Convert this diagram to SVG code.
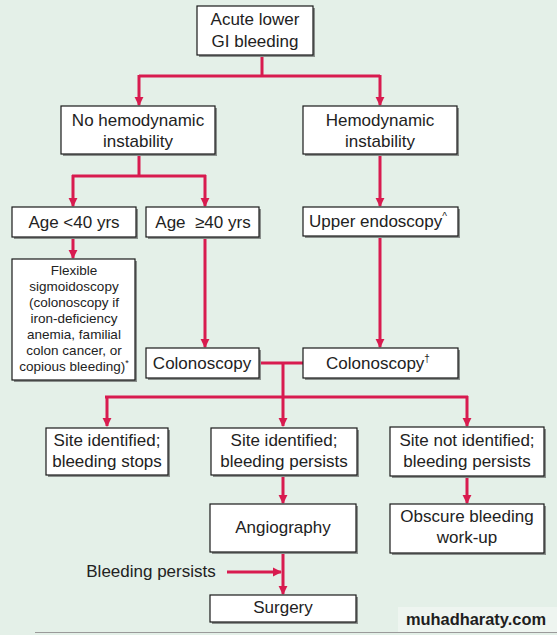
<svg xmlns="http://www.w3.org/2000/svg" width="557" height="635" viewBox="0 0 557 635">
<defs>
<style>
.bx{fill:#fff;stroke:#1a1a1a;stroke-width:1.2}
.sh{fill:#8a8f8c}
.t{font-family:"Liberation Sans",Arial,sans-serif;font-size:17px;fill:#222;text-anchor:middle}
.s{font-family:"Liberation Sans",Arial,sans-serif;font-size:13.5px;fill:#222;text-anchor:middle}
.c{fill:none;stroke:#d81b4f;stroke-width:3}
</style>
<marker id="ah" viewBox="0 0 10 10" refX="9" refY="5" markerWidth="3" markerHeight="3.2" orient="auto" markerUnits="strokeWidth">
<path d="M0,0 L10,5 L0,10 z" fill="#d81b4f"/>
</marker>
</defs>
<rect width="557" height="635" fill="#e4f0e8"/>
<g id="connectors">
<path class="c" d="M262,55 V76 M139,76 H380"/>
<path class="c" d="M139,75 V105" marker-end="url(#ah)"/>
<path class="c" d="M380,75 V105" marker-end="url(#ah)"/>
<path class="c" d="M139,154 V176 M72,176 H206"/>
<path class="c" d="M73,175 V206" marker-end="url(#ah)"/>
<path class="c" d="M205,175 V206" marker-end="url(#ah)"/>
<path class="c" d="M73,237 V258" marker-end="url(#ah)"/>
<path class="c" d="M205,237 V347" marker-end="url(#ah)"/>
<path class="c" d="M380,154 V206" marker-end="url(#ah)"/>
<path class="c" d="M380,236 V347" marker-end="url(#ah)"/>
<path class="c" d="M259,363 H303"/>
<path class="c" d="M283,363 V426" marker-end="url(#ah)"/>
<path class="c" d="M105,397 H468"/>
<path class="c" d="M107,396 V426" marker-end="url(#ah)"/>
<path class="c" d="M467,396 V426" marker-end="url(#ah)"/>
<path class="c" d="M283,475 V503" marker-end="url(#ah)"/>
<path class="c" d="M467,476 V503" marker-end="url(#ah)"/>
<path class="c" d="M283,552 V594" marker-end="url(#ah)"/>
<path class="c" d="M227,572 H281" marker-end="url(#ah)"/>
</g>
<g id="n-acute"><rect class="sh" x="199" y="8" width="116" height="49"/><rect class="bx" x="197" y="6" width="116" height="49"/><text class="t" x="255" y="25">Acute lower</text><text class="t" x="255" y="47">GI bleeding</text></g>
<g id="n-nohemo"><rect class="sh" x="63" y="108" width="154" height="48"/><rect class="bx" x="61" y="106" width="154" height="48"/><text class="t" x="138" y="126">No hemodynamic</text><text class="t" x="138" y="147">instability</text></g>
<g id="n-hemo"><rect class="sh" x="305" y="108" width="154" height="48"/><rect class="bx" x="303" y="106" width="154" height="48"/><text class="t" x="380" y="126">Hemodynamic</text><text class="t" x="380" y="147">instability</text></g>
<g id="n-age40"><rect class="sh" x="14" y="209" width="124" height="30"/><rect class="bx" x="12" y="207" width="124" height="30"/><text class="t" x="74" y="228">Age &lt;40 yrs</text></g>
<g id="n-age40p"><rect class="sh" x="148" y="209" width="113" height="30"/><rect class="bx" x="146" y="207" width="113" height="30"/><text class="t" x="203" y="228" xml:space="preserve">Age  ≥40 yrs</text></g>
<g id="n-upper"><rect class="sh" x="305" y="209" width="155" height="29"/><rect class="bx" x="303" y="207" width="155" height="29"/><text class="t" x="378" y="227">Upper endoscopy<tspan font-size="10" dy="-7">^</tspan></text></g>
<g id="n-flex"><rect class="sh" x="14" y="261" width="123" height="121"/><rect class="bx" x="12" y="259" width="123" height="121"/>
<text class="s" x="74" y="275">Flexible</text>
<text class="s" x="74" y="291">sigmoidoscopy</text>
<text class="s" x="74" y="307">(colonoscopy if</text>
<text class="s" x="74" y="323">iron-deficiency</text>
<text class="s" x="74" y="339">anemia, familial</text>
<text class="s" x="74" y="355">colon cancer, or</text>
<text class="s" x="74" y="371">copious bleeding)<tspan font-size="9" dy="-5">*</tspan></text></g>
<g id="n-colon1"><rect class="sh" x="148" y="350" width="113" height="30"/><rect class="bx" x="146" y="348" width="113" height="30"/><text class="t" x="202" y="369">Colonoscopy</text></g>
<g id="n-colon2"><rect class="sh" x="305" y="350" width="155" height="30"/><rect class="bx" x="303" y="348" width="155" height="30"/><text class="t" x="378" y="369">Colonoscopy<tspan font-size="10" dy="-7">†</tspan></text></g>
<g id="n-stops"><rect class="sh" x="48" y="430" width="122" height="47"/><rect class="bx" x="46" y="428" width="122" height="47"/><text class="t" x="107" y="446">Site identified;</text><text class="t" x="107" y="467">bleeding stops</text></g>
<g id="n-persists"><rect class="sh" x="213" y="430" width="146" height="47"/><rect class="bx" x="211" y="428" width="146" height="47"/><text class="t" x="284" y="446">Site identified;</text><text class="t" x="284" y="467">bleeding persists</text></g>
<g id="n-notid"><rect class="sh" x="392" y="429" width="154" height="49"/><rect class="bx" x="390" y="427" width="154" height="49"/><text class="t" x="467" y="446">Site not identified;</text><text class="t" x="467" y="467">bleeding persists</text></g>
<g id="n-obscure"><rect class="sh" x="392" y="506" width="154" height="49"/><rect class="bx" x="390" y="504" width="154" height="49"/><text class="t" x="467" y="522">Obscure bleeding</text><text class="t" x="467" y="543">work-up</text></g>
<g id="n-angio"><rect class="sh" x="212" y="506" width="146" height="48"/><rect class="bx" x="210" y="504" width="146" height="48"/><text class="t" x="283" y="533">Angiography</text></g>
<g id="n-surgery"><rect class="sh" x="212" y="597" width="146" height="27"/><rect class="bx" x="210" y="595" width="146" height="27"/><text class="t" x="283" y="613">Surgery</text></g>
<text class="t" x="151" y="577">Bleeding persists</text>
<line x1="35" y1="632.5" x2="557" y2="632.5" stroke="#9a9a9a" stroke-width="1.2"/>
<rect x="398" y="607" width="159" height="25" fill="#eef5f0"/>
<text x="406" y="625" font-family="'Liberation Sans',Arial,sans-serif" font-weight="bold" font-size="17" fill="#1e1e1e" textLength="140" lengthAdjust="spacingAndGlyphs">muhadharaty.com</text>
</svg>
